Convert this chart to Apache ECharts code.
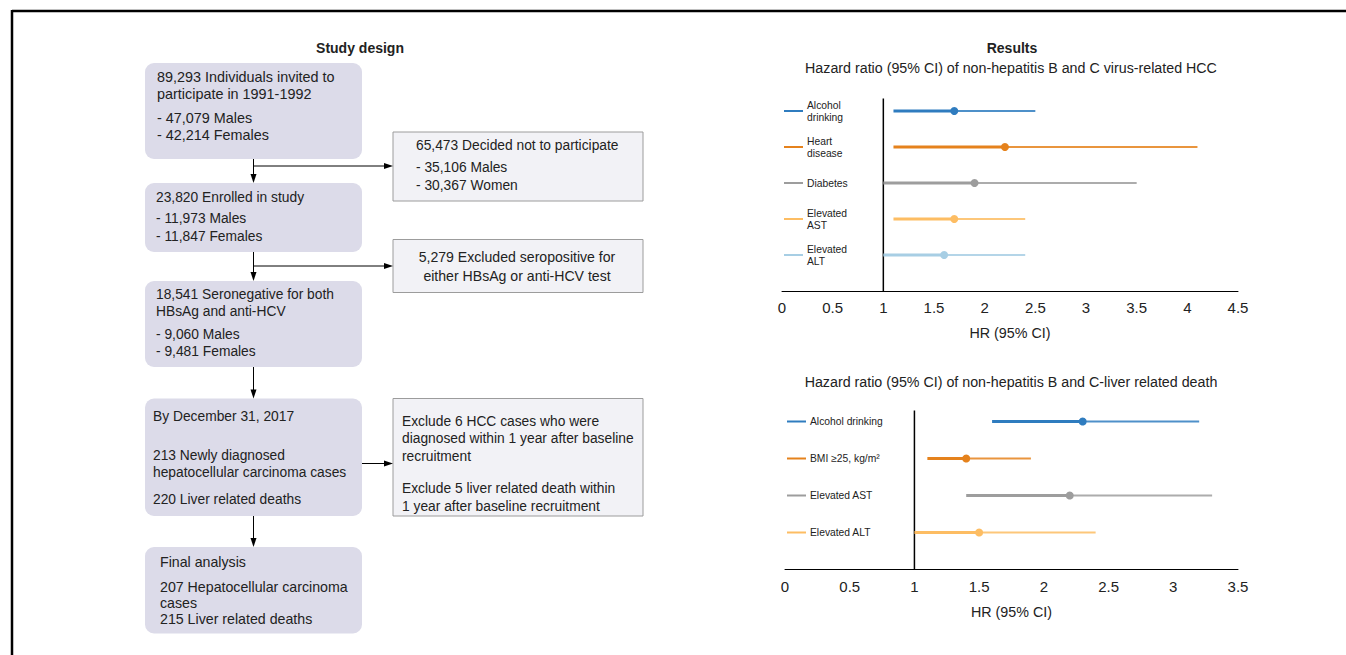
<!DOCTYPE html>
<html>
<head>
<meta charset="utf-8">
<script src="https://cdn.jsdelivr.net/npm/echarts@6/dist/echarts.min.js"></script>
<style>
  html, body { margin: 0; padding: 0; background: #fff; }
  #chart { width: 1346px; height: 655px; }
</style>
</head>
<body>
<div id="chart"></div>
<script>
// ---- Forest plot 1: non-hepatitis B and C virus-related HCC ----
const hccFactors = ['Alcohol\ndrinking', 'Heart\ndisease', 'Diabetes', 'Elevated\nAST', 'Elevated\nALT'];
const hccHR      = [1.7, 2.2, 1.9, 1.7, 1.6];
const hccLower   = [1.1, 1.1, 1.0, 1.1, 1.0];
const hccUpper   = [2.5, 4.1, 3.5, 2.4, 2.4];
const hccTicks   = [0, 0.5, 1, 1.5, 2, 2.5, 3, 3.5, 4, 4.5];

// ---- Forest plot 2: non-hepatitis B and C liver related death ----
const deathFactors = ['Alcohol drinking', 'BMI \u226525, kg/m\u00b2', 'Elevated AST', 'Elevated ALT'];
const deathHR      = [2.3, 1.4, 2.2, 1.5];
const deathLower   = [1.6, 1.1, 1.4, 1.0];
const deathUpper   = [3.2, 1.9, 3.3, 2.4];
const deathTicks   = [0, 0.5, 1, 1.5, 2, 2.5, 3, 3.5];

// ---- Study design flow: each box is a list of paragraphs, each a list of lines ----
const boxInvited   = [['89,293 Individuals invited to', 'participate in 1991-1992'], ['- 47,079 Males', '- 42,214 Females']];
const boxDeclined  = [['65,473 Decided not to participate'], ['- 35,106 Males', '- 30,367 Women']];
const boxEnrolled  = [['23,820 Enrolled in study'], ['- 11,973 Males', '- 11,847 Females']];
const boxExcluded  = [['5,279 Excluded seropositive for', 'either HBsAg or anti-HCV test']];
const boxNegative  = [['18,541 Seronegative for both', 'HBsAg and anti-HCV'], ['- 9,060 Males', '- 9,481 Females']];
const boxFollowUp  = [['By December 31, 2017'], ['213 Newly diagnosed', 'hepatocellular carcinoma cases'], ['220 Liver related deaths']];
const boxEarly     = [['Exclude 6 HCC cases who were', 'diagnosed within 1 year after baseline', 'recruitment'], ['Exclude 5 liver related death within', '1 year after baseline recruitment']];
const boxFinal     = [['Final analysis'], ['207 Hepatocellular carcinoma', 'cases', '215 Liver related deaths']];

const FONT = '"Liberation Sans", Arial, Helvetica, sans-serif';
const TEXT = '#222';
const hccColors   = ['#2f7cbf', '#e5821c', '#9d9d9d', '#fdbd63', '#a7cee4'];
const deathColors = ['#2f7cbf', '#e5821c', '#9d9d9d', '#fdbd63'];

function rows(n) { const r = []; for (let i = 0; i < n; i++) r.push(n - i); return r; }

function forestData(lower, hr, upper) {
  const r = rows(hr.length);
  return hr.map((v, i) => [lower[i], v, upper[i], r[i]]);
}

function forestItem(labels, colors) {
  return function (params, api) {
    const i = params.dataIndex;
    const row = api.value(3);
    const pL = api.coord([api.value(0), row]);
    const pM = api.coord([api.value(1), row]);
    const pU = api.coord([api.value(2), row]);
    const o = api.coord([0, row]);
    const c = colors[i];
    return {
      type: 'group',
      children: [
        { type: 'line', shape: { x1: o[0] + 2, y1: o[1], x2: o[0] + 21, y2: o[1] }, style: { stroke: c, lineWidth: 2 } },
        { type: 'text', style: { text: labels[i], x: o[0] + 25, y: o[1], verticalAlign: 'middle', align: 'left',
            fill: TEXT, font: '10.3px ' + FONT, lineHeight: 12 } },
        { type: 'line', shape: { x1: pL[0], y1: pL[1], x2: pM[0], y2: pM[1] }, style: { stroke: c, lineWidth: 3 } },
        { type: 'line', shape: { x1: pM[0], y1: pM[1], x2: pU[0], y2: pU[1] }, style: { stroke: c, lineWidth: 2, opacity: 0.85 } },
        { type: 'circle', shape: { cx: pM[0], cy: pM[1], r: 4 }, style: { fill: c } }
      ]
    };
  };
}

function xAxisFor(grid, ticks) {
  return {
    gridIndex: grid, type: 'value',
    min: ticks[0], max: ticks[ticks.length - 1], interval: ticks[1] - ticks[0],
    name: 'HR (95% CI)', nameLocation: 'middle', nameGap: 35,
    nameTextStyle: { color: TEXT, fontSize: 14.3, fontFamily: FONT },
    axisLine: { show: true, lineStyle: { color: '#000', width: 1 } },
    axisTick: { show: false },
    splitLine: { show: false },
    axisLabel: { color: TEXT, fontSize: 15, fontFamily: FONT, margin: 9,
      formatter: v => (ticks.indexOf(v) >= 0 ? String(v) : '') }
  };
}

// ---- flow chart drawing ----
const g = [];
function addText(str, x, y, opts) {
  g.push(Object.assign({ type: 'text', silent: true,
    style: Object.assign({ text: str, x: x, y: y, fill: TEXT, font: '14.25px ' + FONT,
      verticalAlign: 'middle', align: 'left' }, opts || {}) }));
}
function addBox(rect, paragraphs, starts, textX, kind, size, align) {
  const main = kind === 'main';
  g.push({ type: 'rect', silent: true,
    shape: { x: rect[0], y: rect[1], width: rect[2], height: rect[3], r: main ? 9 : 0 },
    style: main ? { fill: '#dcdbe9' } : { fill: '#f2f2f6', stroke: '#9c9c9c', lineWidth: 1 } });
  paragraphs.forEach((lines, p) => {
    lines.forEach((ln, k) => {
      const lh = starts[p][1];
      addText(ln, textX, starts[p][0] + k * lh, { align: align || 'left', font: size + 'px ' + FONT });
    });
  });
}
function arrowDown(x, y1, y2) {
  g.push({ type: 'line', silent: true, shape: { x1: x, y1: y1, x2: x, y2: y2 - 6 }, style: { stroke: '#000', lineWidth: 1 } });
  g.push({ type: 'polygon', silent: true, shape: { points: [[x - 3, y2 - 9], [x + 3, y2 - 9], [x, y2]] }, style: { fill: '#000' } });
}
function arrowRight(x1, x2, y) {
  g.push({ type: 'line', silent: true, shape: { x1: x1, y1: y, x2: x2 - 6, y2: y }, style: { stroke: '#000', lineWidth: 1 } });
  g.push({ type: 'polygon', silent: true, shape: { points: [[x2 - 9, y - 3], [x2 - 9, y + 3], [x2, y]] }, style: { fill: '#000' } });
}

// outer frame
g.push({ type: 'line', silent: true, shape: { x1: 12, y1: 11, x2: 1346, y2: 11 }, style: { stroke: '#000', lineWidth: 2.5 } });
g.push({ type: 'line', silent: true, shape: { x1: 12, y1: 10, x2: 12, y2: 655 }, style: { stroke: '#000', lineWidth: 2.5 } });

// headings
addText('Study design', 360, 48, { align: 'center', font: 'bold 14px ' + FONT });
addText('Results', 1012, 48, { align: 'center', font: 'bold 14px ' + FONT });
addText('Hazard ratio (95% CI) of non-hepatitis B and C virus-related HCC', 1011, 68, { align: 'center' });
addText('Hazard ratio (95% CI) of non-hepatitis B and C-liver related death', 1011, 382, { align: 'center' });

const MX = 145, MW = 217, SX = 393, SW = 250, CX = 253.5;
addBox([MX, 63, MW, 96], boxInvited, [[77, 17.3], [117.5, 17]], 157, 'main', 14.4);
addBox([SX, 132, SW, 69], boxDeclined, [[145, 17], [167, 18.3]], 416, 'side', 13.8);
addBox([MX, 183, MW, 69], boxEnrolled, [[197, 17], [218.5, 17.7]], 156, 'main', 13.8);
addBox([SX, 239.5, SW, 53], boxExcluded, [[256.7, 19]], 517, 'side', 14.1, 'center');
addBox([MX, 281, MW, 86], boxNegative, [[294, 17.7], [334, 17]], 156, 'main', 13.8);
addBox([MX, 398.5, MW, 117.5], boxFollowUp, [[416, 17], [455, 17.7], [499.5, 17]], 153, 'main', 13.8);
addBox([SX, 398.5, SW, 117.5], boxEarly, [[421.7, 17.2], [488.3, 17.7]], 402, 'side', 13.8);
addBox([MX, 547, MW, 86.5], boxFinal, [[561.7, 17], [586.7, 16.3]], 160, 'main', 14.2);

arrowDown(CX, 159, 183);
arrowRight(CX, SX, 166);
arrowDown(CX, 252, 281);
arrowRight(CX, SX, 266);
arrowDown(CX, 367, 398.5);
arrowRight(MX + MW, SX, 463.5);
arrowDown(CX, 516, 547);

const chart = echarts.init(document.getElementById('chart'), null, { renderer: 'svg' });
chart.setOption({
  backgroundColor: '#fff',
  animation: false,
  textStyle: { fontFamily: FONT },
  grid: [
    { left: 782, top: 93, width: 456, height: 198, outerBoundsMode: 'none', containLabel: false },
    { left: 785, top: 403, width: 453, height: 166.5, outerBoundsMode: 'none', containLabel: false }
  ],
  xAxis: [xAxisFor(0, hccTicks), xAxisFor(1, deathTicks)],
  yAxis: [
    { gridIndex: 0, type: 'value', min: 0, max: 5.5, show: false },
    { gridIndex: 1, type: 'value', min: 0, max: 4.5, show: false }
  ],
  graphic: g,
  series: [
    { type: 'line', xAxisIndex: 0, yAxisIndex: 0, data: [[1, 0], [1, 5.35]], symbol: 'none',
      lineStyle: { color: '#000', width: 1.5 }, silent: true, z: 1 },
    { type: 'line', xAxisIndex: 1, yAxisIndex: 1, data: [[1, 0], [1, 4.3]], symbol: 'none',
      lineStyle: { color: '#000', width: 1.5 }, silent: true, z: 1 },
    { type: 'custom', xAxisIndex: 0, yAxisIndex: 0, clip: false, z: 3,
      encode: { x: [0, 1, 2], y: 3 },
      data: forestData(hccLower, hccHR, hccUpper),
      renderItem: forestItem(hccFactors, hccColors) },
    { type: 'custom', xAxisIndex: 1, yAxisIndex: 1, clip: false, z: 3,
      encode: { x: [0, 1, 2], y: 3 },
      data: forestData(deathLower, deathHR, deathUpper),
      renderItem: forestItem(deathFactors, deathColors) }
  ]
});
</script>
</body>
</html>
